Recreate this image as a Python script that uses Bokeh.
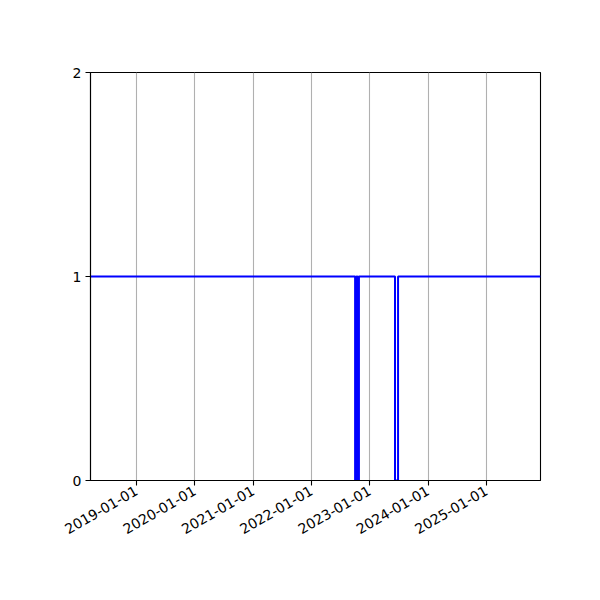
import math

import pandas as pd
from bokeh.embed import file_html
from bokeh.models import DatetimeTickFormatter, FixedTicker, Range1d
from bokeh.plotting import figure
from bokeh.resources import INLINE

# ---------------------------------------------------------------------------
# Data (change points of a 0/1 step series)
# ---------------------------------------------------------------------------
dates = [
    "2018-03-19", "2022-10-01", "2022-10-07", "2022-10-10", "2022-10-16",
    "2022-10-19", "2022-10-25", "2023-06-08", "2023-06-27", "2025-12-05",
]
values = [1, 0, 1, 0, 1, 0, 1, 0, 1, 1]

tick_dates = [
    "2019-01-01", "2020-01-01", "2021-01-01", "2022-01-01",
    "2023-01-01", "2024-01-01", "2025-01-01",
]
y_ticks = [0, 1, 2]

x = pd.to_datetime(dates)
x_ticks_ms = [pd.Timestamp(d).value / 1e6 for d in tick_dates]

# ---------------------------------------------------------------------------
# Figure
# ---------------------------------------------------------------------------
p = figure(
    x_axis_type="datetime",
    frame_width=450, frame_height=408,
    min_border_left=90, min_border_right=48,
    min_border_top=72, min_border_bottom=96,
    x_range=Range1d(x[0], x[-1]),
    y_range=Range1d(0, 2),
    output_backend="svg",
    toolbar_location=None,
)

p.step(x, values, mode="after", line_color="blue", line_width=2)

FONT = "DejaVu Sans"
fmt = "%Y-%m-%d"
p.xaxis.ticker = FixedTicker(ticks=x_ticks_ms)
p.xaxis.formatter = DatetimeTickFormatter(
    years=fmt, months=fmt, days=fmt, hours=fmt, minutes=fmt,
    seconds=fmt, milliseconds=fmt, microseconds=fmt,
    hourmin=fmt, minsec=fmt,
)
p.xaxis.major_label_orientation = math.pi / 6
p.yaxis.ticker = FixedTicker(ticks=y_ticks)

for ax in (p.xaxis, p.yaxis):
    ax.major_label_text_font = FONT
    ax.major_label_text_font_size = "14px"
    ax.major_label_text_color = "black"
    ax.axis_line_color = "black"
    ax.axis_line_width = 1.1
    ax.major_tick_line_color = "black"
    ax.major_tick_line_width = 1.1
    ax.major_tick_out = 5
    ax.major_tick_in = 0
    ax.minor_tick_line_color = None
    ax.major_label_standoff = 4

p.xgrid.grid_line_color = "#b0b0b0"
p.xgrid.grid_line_width = 1.1
p.ygrid.grid_line_color = None

p.outline_line_color = "black"
p.outline_line_width = 1.1
p.outline_line_alpha = 1.0
p.background_fill_color = "white"
p.border_fill_color = "white"

open("out.html", "w").write(file_html(p, INLINE))
